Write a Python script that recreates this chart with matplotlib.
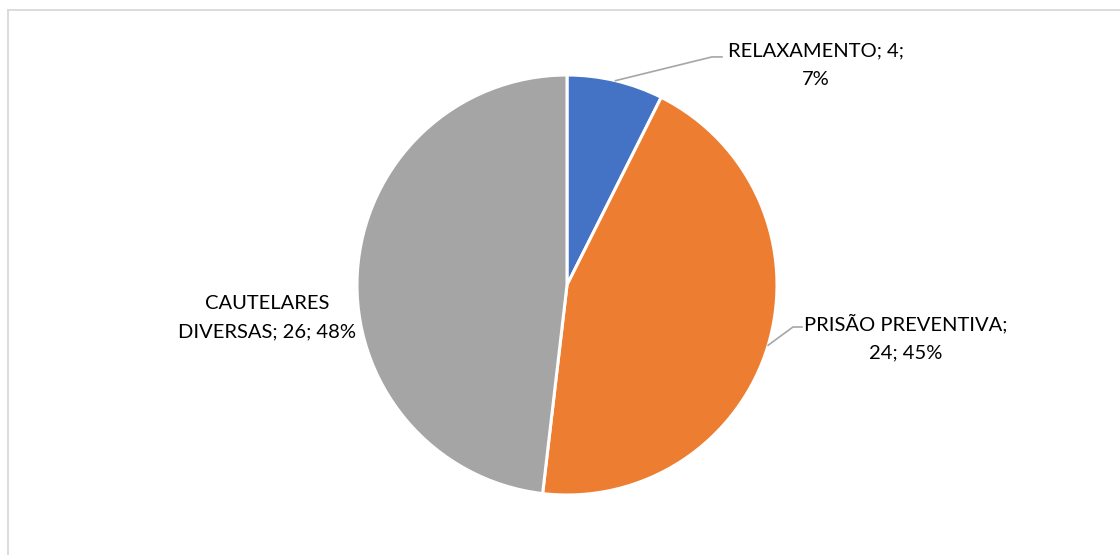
import numpy as np
import matplotlib
matplotlib.use("Agg")
import matplotlib.pyplot as plt
from matplotlib.lines import Line2D

categories = ["RELAXAMENTO", "PRISÃO PREVENTIVA", "CAUTELARES DIVERSAS"]
values = [4, 24, 26]
pct_labels = ["7%", "45%", "48%"]
label_texts = ["RELAXAMENTO; 4;\n7%", "PRISÃO PREVENTIVA;\n24; 45%", "CAUTELARES\nDIVERSAS; 26; 48%"]
colors = ["#4472C4", "#ED7D31", "#A5A5A5"]

W, H = 1120, 555
DPI = 100
fig = plt.figure(figsize=(W / DPI, H / DPI), dpi=DPI)
fig.patch.set_facecolor("white")

cx, cy, R = 567, 285, 210  # pixel geometry
ax = fig.add_axes([0, 0, 1, 1])
wedges, _ = ax.pie(values, colors=colors, startangle=90, counterclock=False,
                   radius=1.0, wedgeprops=dict(edgecolor="white", linewidth=2.2))
ax.set_xlim(-cx / R, (W - cx) / R)
ax.set_ylim(-(H - cy) / R, cy / R)
ax.set_aspect("equal", adjustable="box")
ax.axis("off")

font = dict(family=["Lato", "DejaVu Sans"], fontsize=14.5, color="#000000",
            ha="center", va="center", linespacing=1.8)

# label placement (axes data units, radius = 1)
text_pos = [(1.186, 1.048), (1.614, -0.252), (-1.429, -0.157)]
elbows = [((0.690, 1.086), (0.738, 1.086)), ((1.076, -0.200), (1.119, -0.200)), None]

for w, lab, tp, el in zip(wedges, label_texts, text_pos, elbows):
    ax.text(tp[0], tp[1], lab, **font)
    if el is not None:
        mid = np.deg2rad((w.theta1 + w.theta2) / 2)
        sx, sy = np.cos(mid), np.sin(mid)
        ax.add_line(Line2D([sx, el[0][0], el[1][0]], [sy, el[0][1], el[1][1]],
                           color="#A6A6A6", lw=1.2))

# chart border (top and left visible)
fig.add_artist(Line2D([7.5 / W, 1.0], [1 - 9.5 / H, 1 - 9.5 / H], transform=fig.transFigure,
                      color="#D9D9D9", lw=1.3))
fig.add_artist(Line2D([7.5 / W, 7.5 / W], [0, 1 - 9.5 / H], transform=fig.transFigure,
                      color="#D9D9D9", lw=1.3))

fig.savefig("out.png", dpi=DPI, facecolor="white")
